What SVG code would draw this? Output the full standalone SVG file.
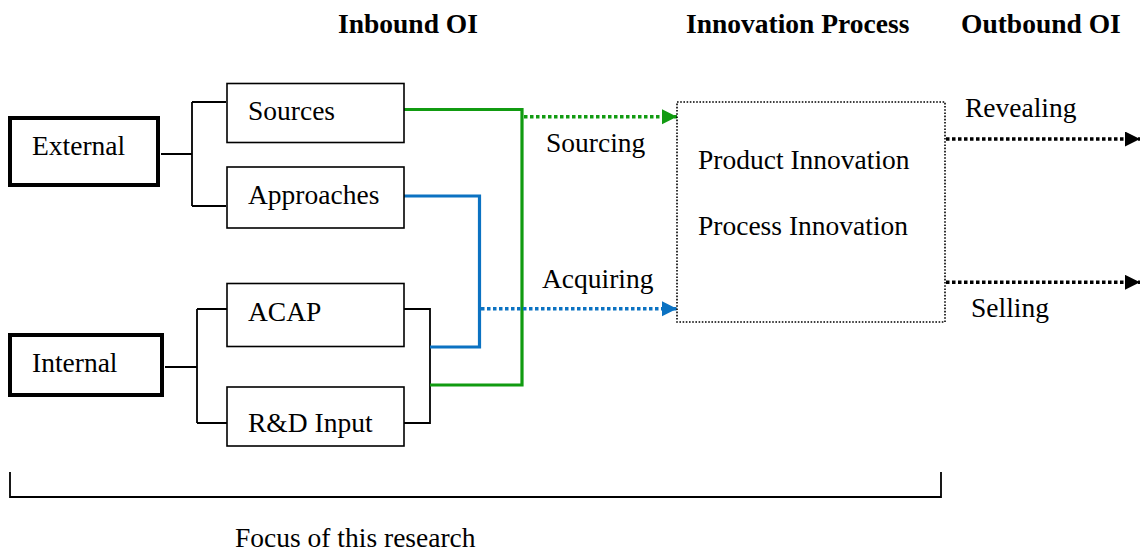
<svg xmlns="http://www.w3.org/2000/svg" width="1144" height="552" viewBox="0 0 1144 552">
<style>
text{font-family:"Liberation Serif","Times New Roman",serif;font-size:27.5px;fill:#000}
.h{font-weight:bold}
.box{fill:#fff;stroke:#000;stroke-width:1.6}
.thick{fill:#fff;stroke:#000;stroke-width:4}
.ln{fill:none;stroke:#000;stroke-width:1.8}
.g{fill:none;stroke:#119b11;stroke-width:3.2}
.b{fill:none;stroke:#0b72c2;stroke-width:3.2}
.gd{fill:none;stroke:#119b11;stroke-width:3.5;stroke-dasharray:3.5 2.5}
.bd{fill:none;stroke:#0b72c2;stroke-width:3.5;stroke-dasharray:3.5 2.5}
.kd{fill:none;stroke:#000;stroke-width:3.5;stroke-dasharray:3.5 2.5}
</style>
<defs>
<marker id="ag" markerUnits="userSpaceOnUse" markerWidth="16" markerHeight="16" refX="15" refY="7.5" orient="auto"><path d="M0,0 L15,7.5 L0,15 Z" fill="#119b11"/></marker>
<marker id="ab" markerUnits="userSpaceOnUse" markerWidth="16" markerHeight="16" refX="15" refY="7.5" orient="auto"><path d="M0,0 L15,7.5 L0,15 Z" fill="#0b72c2"/></marker>
<marker id="ak" markerUnits="userSpaceOnUse" markerWidth="16" markerHeight="16" refX="15" refY="7.5" orient="auto"><path d="M0,0 L15,7.5 L0,15 Z" fill="#000"/></marker>
</defs>
<g id="headers">
<text class="h" x="338" y="33">Inbound OI</text>
<text class="h" x="686" y="33">Innovation Process</text>
<text class="h" x="961" y="33">Outbound OI</text>
</g>
<g id="connectors">
<path class="ln" d="M161,154 H192 M192,102 V206 M192,102 H226 M192,206 H226"/>
<path class="ln" d="M165,367 H197 M197,309 V423 M197,309 H227 M197,423 H227"/>
<path class="ln" d="M404,309 H430 V423 H404"/>
<path class="b" d="M404,196 H479.5 V347 H430"/>
<path class="g" d="M404,109.5 H522 V385 H430"/>
<path class="gd" d="M524,116.7 H677" marker-end="url(#ag)"/>
<path class="bd" d="M481,308.7 H677" marker-end="url(#ab)"/>
<path class="kd" d="M946,139 H1140" marker-end="url(#ak)"/>
<path class="kd" d="M946,282.3 H1140" marker-end="url(#ak)"/>
</g>
<g id="external"><rect class="thick" x="10" y="118" width="148" height="67"/><text x="32" y="155">External</text></g>
<g id="internal"><rect class="thick" x="10" y="335" width="152" height="60"/><text x="32" y="372">Internal</text></g>
<g id="sources"><rect class="box" x="227" y="83.5" width="177" height="59"/><text x="248" y="120">Sources</text></g>
<g id="approaches"><rect class="box" x="227" y="167" width="177" height="61"/><text x="248" y="204">Approaches</text></g>
<g id="acap"><rect class="box" x="227" y="283.5" width="177" height="63"/><text x="248" y="321">ACAP</text></g>
<g id="rnd"><rect class="box" x="227" y="387" width="177" height="59"/><text x="248" y="432">R&amp;D Input</text></g>
<g id="innovation"><rect x="677" y="102" width="268" height="220" fill="none" stroke="#000" stroke-width="1.6" stroke-dasharray="1.6 1.6"/>
<text x="698" y="169">Product Innovation</text>
<text x="698" y="235">Process Innovation</text></g>
<g id="labels">
<text x="546" y="152">Sourcing</text>
<text x="542" y="288">Acquiring</text>
<text x="965" y="117">Revealing</text>
<text x="971" y="317">Selling</text>
</g>
<g id="focus">
<path class="ln" d="M10,472 V497 H941 V472" stroke-width="1.5"/>
<text x="235" y="547">Focus of this research</text>
</g>
</svg>
